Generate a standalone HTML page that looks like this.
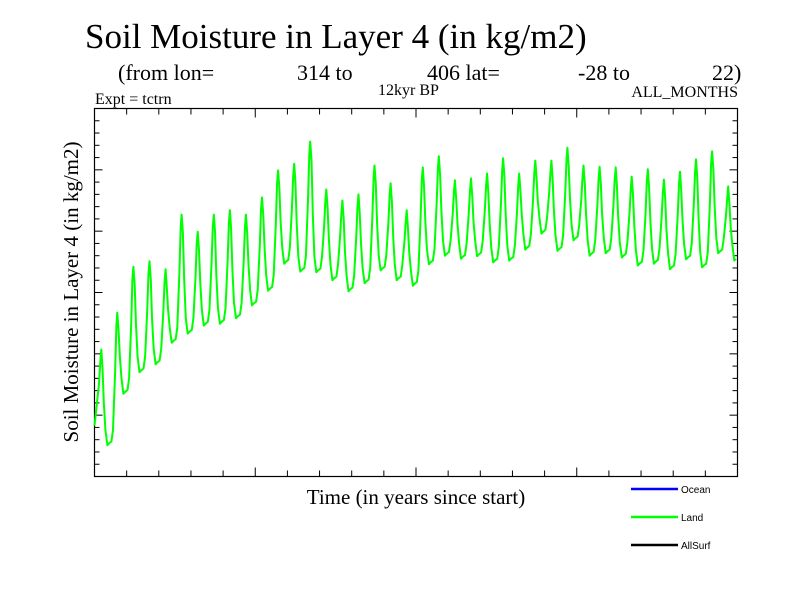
<!DOCTYPE html>
<html><head><meta charset="utf-8"><style>
body{margin:0;background:#fff;}
svg{display:block;font-family:"Liberation Serif",serif;}
</style></head><body>
<svg id="chart" width="800" height="600" viewBox="0 0 800 600">
<rect width="800" height="600" fill="#fff"/>
<text x="85" y="48" font-size="35">Soil Moisture in Layer 4 (in kg/m2)</text>
<g font-size="22">
<text x="118" y="80">(from lon=</text><text x="297" y="80">314 to</text><text x="427" y="80">406 lat=</text><text x="578" y="80">-28 to</text><text x="712" y="80">22)</text>
</g>
<text x="95" y="104" font-size="16">Expt = tctrn</text>
<text x="378" y="95" font-size="16">12kyr BP</text>
<text x="738" y="97" font-size="16" text-anchor="end">ALL_MONTHS</text>
<text transform="translate(78,292) rotate(-90)" font-size="21" text-anchor="middle">Soil Moisture in Layer 4 (in kg/m2)</text>
<text x="416" y="504" font-size="21" text-anchor="middle">Time (in years since start)</text>
<g id="ticks"></g>
<rect x="94.5" y="108.5" width="643" height="368" fill="none" stroke="#000" stroke-width="1.2"/>
<polyline id="land" fill="none" stroke="#00ff00" stroke-width="2" stroke-linejoin="round"/>
<g font-family="Liberation Sans, sans-serif" font-size="10">
<line x1="631" y1="489" x2="678" y2="489" stroke="#0000ff" stroke-width="2.5"/>
<text x="681" y="493">Ocean</text>
<line x1="631" y1="517" x2="678" y2="517" stroke="#00ff00" stroke-width="2.5"/>
<text x="681" y="521">Land</text>
<line x1="631" y1="545" x2="678" y2="545" stroke="#000" stroke-width="2.5"/>
<text x="681" y="549">AllSurf</text>
</g>
</svg>
<script>
const years=[0,1,2,3,4,5,6,7,8,9,10,11,12,13,14,15,16,17,18,19,20,21,22,23,24,25,26,27,28,29,30,31,32,33,34,35,36,37,38,39];
const startValue=8.3;
const peakValues=[20.7,26.7,34.2,35.1,33.8,42.7,39.9,42.7,43.4,42.7,45.5,49.9,51.0,54.6,46.8,45.0,46.0,50.7,47.8,43.4,50.4,52.2,48.3,48.6,49.4,51.9,49.4,51.5,51.5,53.6,50.7,50.5,50.4,48.9,50.1,48.4,49.7,51.7,53.0,47.3];
const troughValues=[5.1,13.5,17.0,18.3,21.8,23.3,24.6,24.9,25.8,27.9,30.3,34.7,33.4,33.3,32.0,30.2,31.5,33.6,32.0,31.1,34.6,36.0,35.5,35.9,34.9,35.2,37.0,39.6,36.8,38.5,36.0,36.4,35.7,34.4,34.7,33.8,35.4,34.1,36.4,35.2];
const X0=94.5,X1=737.5,Y0=476.5,Y1=108.5,XMAX=40,YMAX=60;
const xs=t=>X0+(X1-X0)*t/XMAX;
const ys=v=>Y0-(Y0-Y1)*v/YMAX;
const NS="http://www.w3.org/2000/svg";
const tg=document.getElementById('ticks');
function tick(x1,y1,x2,y2){const l=document.createElementNS(NS,'line');l.setAttribute('x1',x1);l.setAttribute('y1',y1);l.setAttribute('x2',x2);l.setAttribute('y2',y2);l.setAttribute('stroke','#000');


tg.appendChild(l);}
for(let v=2;v<YMAX;v+=2){const y=ys(v);const len=(v%10===0)?8:5;tick(X0,y,X0+len,y);tick(X1,y,X1-len,y);}
for(let t=2;t<XMAX;t+=2){const x=xs(t);const len=(t%10===0)?9:6;tick(x,Y0,x,Y0-len);tick(x,Y1,x,Y1+len);}
const pts=[[0,startValue]];
years.forEach((yr,i)=>{
  const pt=i?troughValues[i-1]:startValue, p=peakValues[i], tr=troughValues[i];
  if(i){pts.push([yr+0.05,pt+0.6]);pts.push([yr+0.15,pt+2.5]);}
  pts.push([yr+0.28,pt+(p-pt)*0.55]);
  pts.push([yr+0.36,p-2]);
  pts.push([yr+0.42,p]);
  pts.push([yr+0.5,p-3]);
  pts.push([yr+0.58,tr+(p-tr)*0.45]);
  pts.push([yr+0.68,tr+2.5]);
  pts.push([yr+0.8,tr]);
  pts.push([yr+0.9,tr+0.3]);
});
document.getElementById('land').setAttribute('points',pts.map(p=>xs(p[0]).toFixed(1)+','+ys(p[1]).toFixed(1)).join(' '));
</script>
</body></html>
